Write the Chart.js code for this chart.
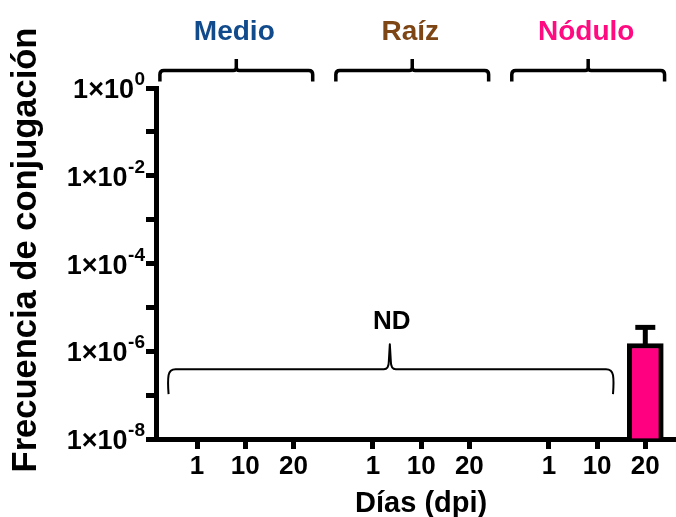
<!DOCTYPE html>
<html>
<head>
<meta charset="utf-8">
<script src="https://cdn.jsdelivr.net/npm/chart.js@4/dist/chart.umd.min.js"></script>
<style>
html,body{margin:0;padding:0;background:#ffffff;}
canvas{display:block;}
</style>
</head>
<body>
<canvas id="c" width="676" height="517"></canvas>
<script>
// ---------- DATA ----------
const groups = ['Medio', 'Raíz', 'Nódulo'];
const groupColors = ['#114B8C', '#7E4614', '#FF0A80'];
const days = ['1', '10', '20'];
// conjugation frequency (null = not detected, ND)
const medioValues  = [null, null, null];
const raizValues   = [null, null, null];
const noduloValues = [null, null, 1.5e-6];
const noduloErrorHigh = [null, null, 3.5e-6];
const yTickValues = [1, 1e-1, 1e-2, 1e-3, 1e-4, 1e-5, 1e-6, 1e-7, 1e-8];
const yLabelExponents = [0, -2, -4, -6, -8];
const yTitle = 'Frecuencia de conjugación';
const xTitle = 'Días (dpi)';
const ndText = 'ND';
const ndLevel = 3.9e-7;

// ---------- LAYOUT HELPERS ----------
const GROUP_STEP = 3.65;           // x-distance between group starts (in category units)
const xPos = (g, i) => g * GROUP_STEP + i;
const allValues = [medioValues, raizValues, noduloValues];
const allErrors = [[null,null,null],[null,null,null], noduloErrorHigh];

const barData = [];
const errData = [];
const tickPositions = [];
groups.forEach((g, gi) => {
  days.forEach((d, di) => {
    const x = xPos(gi, di);
    tickPositions.push(x);
    barData.push({x: x, y: allValues[gi][di]});
    errData.push({x: x, y: allValues[gi][di], hi: allErrors[gi][di]});
  });
});

const FONT = '"Liberation Sans", Arial, Helvetica, sans-serif';

const errorBarPlugin = {
  id: 'errorBars',
  afterDatasetsDraw(chart) {
    const ctx = chart.ctx;
    const xs = chart.scales.x, ys = chart.scales.y;
    ctx.save();
    ctx.strokeStyle = '#000';
    ctx.lineWidth = 5;
    ctx.lineCap = 'butt';
    errData.forEach(p => {
      if (p.y == null || p.hi == null) return;
      const px = xs.getPixelForValue(p.x);
      const y0 = ys.getPixelForValue(p.y);
      const y1 = ys.getPixelForValue(p.hi);
      ctx.beginPath();
      ctx.moveTo(px, y0 + 2);
      ctx.lineTo(px, y1);
      ctx.stroke();
      ctx.beginPath();
      ctx.moveTo(px - 10, y1);
      ctx.lineTo(px + 10, y1);
      ctx.stroke();
    });
    ctx.restore();
  }
};

const annotPlugin = {
  id: 'annotations',
  afterDraw(chart) {
    const ctx = chart.ctx;
    const xs = chart.scales.x, ys = chart.scales.y;
    const top = chart.chartArea.top;
    ctx.save();
    ctx.fillStyle = '#000';

    // --- y tick labels with superscript exponents ---
    yLabelExponents.forEach(e => {
      const py = ys.getPixelForValue(Math.pow(10, e));
      const expStr = e === 0 ? '0' : '-' + Math.abs(e);
      ctx.font = 'bold 19px ' + FONT;
      const ew = ctx.measureText(expStr).width;
      const right = 145;
      ctx.textAlign = 'right';
      ctx.textBaseline = 'alphabetic';
      ctx.fillText(expStr, right, py - 3);
      ctx.font = 'bold 27px ' + FONT;
      ctx.fillText('1×10', right - ew - 0.5, py + 10);
    });

    // --- group brackets and labels at the top ---
    const by = top - 17.6;
    ctx.strokeStyle = '#000';
    ctx.lineWidth = 3.5;
    ctx.lineJoin = 'round';
    groups.forEach((g, gi) => {
      const x0 = xs.getPixelForValue(xPos(gi, 0) - 0.77);
      const x1 = xs.getPixelForValue(xPos(gi, 0) + 2.40);
      const xm = (x0 + x1) / 2;
      const r = 4;
      ctx.beginPath();
      ctx.moveTo(x0, by + 11);
      ctx.lineTo(x0, by + r);
      ctx.quadraticCurveTo(x0, by, x0 + r, by);
      ctx.lineTo(xm - 3, by);
      ctx.quadraticCurveTo(xm, by, xm, by - 3);
      ctx.lineTo(xm, by - 11.5);
      ctx.moveTo(xm, by - 3);
      ctx.quadraticCurveTo(xm, by, xm + 3, by);
      ctx.lineTo(x1 - r, by);
      ctx.quadraticCurveTo(x1, by, x1, by + r);
      ctx.lineTo(x1, by + 11);
      ctx.stroke();
      ctx.fillStyle = groupColors[gi];
      ctx.font = 'bold 28px ' + FONT;
      ctx.textAlign = 'center';
      ctx.textBaseline = 'alphabetic';
      ctx.fillText(g, xm - 2, top - 48);
    });

    // --- ND bracket ---
    const ny = ys.getPixelForValue(ndLevel);
    const n0 = xs.getPixelForValue(-0.59);
    const n1 = xs.getPixelForValue(xPos(2, 1) + 0.33);
    const nm = xs.getPixelForValue(4.0);
    ctx.strokeStyle = '#000';
    ctx.lineWidth = 2;
    ctx.beginPath();
    ctx.moveTo(n0, ny + 25);
    ctx.quadraticCurveTo(n0 - 1, ny + 12, n0, ny + 6);
    ctx.quadraticCurveTo(n0 + 1, ny, n0 + 7, ny);
    ctx.lineTo(nm - 6, ny);
    ctx.quadraticCurveTo(nm - 1, ny, nm - 1, ny - 8);
    ctx.lineTo(nm, ny - 25);
    ctx.lineTo(nm + 1, ny - 8);
    ctx.quadraticCurveTo(nm + 1, ny, nm + 6, ny);
    ctx.lineTo(n1 - 7, ny);
    ctx.quadraticCurveTo(n1 - 1, ny, n1, ny + 6);
    ctx.quadraticCurveTo(n1 + 1, ny + 12, n1, ny + 25);
    ctx.stroke();
    ctx.fillStyle = '#000';
    ctx.font = 'bold 26px ' + FONT;
    ctx.textAlign = 'center';
    ctx.textBaseline = 'alphabetic';
    ctx.fillText(ndText, nm + 2, ny - 40);

    // --- axis titles ---
    const firstPx = xs.getPixelForValue(tickPositions[0]);
    const lastPx = xs.getPixelForValue(tickPositions[tickPositions.length - 1]);
    ctx.font = 'bold 29px ' + FONT;
    ctx.textAlign = 'center';
    ctx.textBaseline = 'alphabetic';
    ctx.fillText(xTitle, (firstPx + lastPx) / 2, 512);

    ctx.save();
    ctx.translate(36, 250);
    ctx.rotate(-Math.PI / 2);
    ctx.font = 'bold 34.5px ' + FONT;
    ctx.textAlign = 'center';
    ctx.textBaseline = 'alphabetic';
    ctx.fillText(yTitle, 0, 0);
    ctx.restore();

    ctx.restore();
  }
};

const chart = new Chart(document.getElementById('c'), {
  type: 'bar',
  data: {
    datasets: [{
      data: barData,
      backgroundColor: '#FF0080',
      borderColor: '#000000',
      borderWidth: 5,
      borderSkipped: 'start',
      barThickness: 36,
      base: 1e-8
    }]
  },
  options: {
    responsive: false,
    animation: false,
    devicePixelRatio: 1,
    layout: { padding: { top: 88, left: 0, right: 0, bottom: 0 } },
    plugins: { legend: { display: false }, tooltip: { enabled: false }, title: { display: false } },
    scales: {
      x: {
        type: 'linear',
        min: -0.851,
        max: 9.937,
        offset: false,
        afterBuildTicks: (s) => { s.ticks = tickPositions.map(v => ({ value: v })); },
        afterFit: (s) => { s.height = 78; },
        grid: { display: true, drawOnChartArea: false, drawTicks: true, tickLength: 10, tickWidth: 5, tickColor: '#000', offset: false },
        border: { display: true, color: '#000', width: 5 },
        ticks: {
          autoSkip: false,
          maxRotation: 0,
          minRotation: 0,
          padding: 5,
          color: '#000',
          font: { family: FONT, size: 26, weight: 'bold', lineHeight: 1 },
          callback: (v, i) => days[i % days.length]
        }
      },
      y: {
        type: 'logarithmic',
        min: 1e-8,
        max: 1,
        afterBuildTicks: (s) => { s.ticks = yTickValues.map(v => ({ value: v })); },
        afterFit: (s) => { s.width = 156; },
        grid: { display: true, drawOnChartArea: false, drawTicks: true, tickLength: 10, tickWidth: 5, tickColor: '#000' },
        border: { display: true, color: '#000', width: 5 },
        ticks: { display: false }
      }
    }
  },
  plugins: [errorBarPlugin, annotPlugin]
});
</script>
</body>
</html>
